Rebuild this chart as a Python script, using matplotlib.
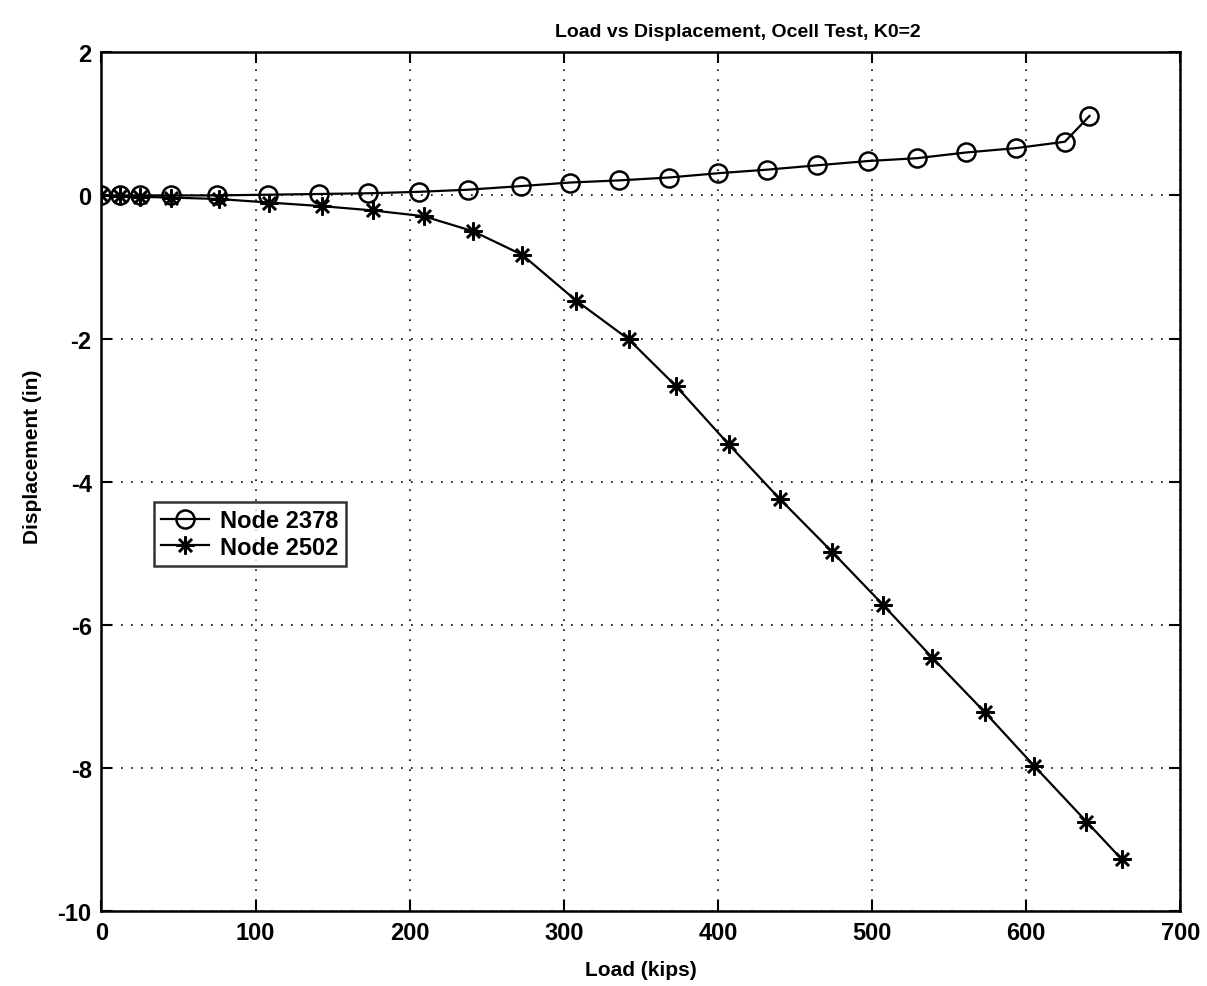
import numpy as np
import matplotlib
matplotlib.use('Agg')
import matplotlib.pyplot as plt

plt.rcParams['font.family'] = ['Liberation Sans', 'DejaVu Sans']
plt.rcParams['font.weight'] = 'bold'
plt.rcParams['axes.unicode_minus'] = False

# Node 2378 (circles)
load_2378 = [0, 12, 25, 45, 75, 108, 141, 173, 206, 238, 272, 304, 336, 368,
             400, 432, 464, 497, 529, 561, 593, 625, 641]
disp_2378 = [0.0, 0.0, 0.0, 0.0, 0.0, 0.01, 0.02, 0.03, 0.05, 0.08, 0.13, 0.18,
             0.21, 0.25, 0.31, 0.36, 0.42, 0.48, 0.52, 0.60, 0.66, 0.75, 1.11]

# Node 2502 (asterisks)
load_2502 = [0, 12, 25, 45, 76, 109, 143, 176, 209, 241, 273, 308, 342, 373,
             407, 440, 474, 507, 539, 573, 605, 639, 662]
disp_2502 = [0.0, -0.01, -0.02, -0.03, -0.05, -0.10, -0.15, -0.21, -0.29, -0.50,
             -0.83, -1.47, -2.01, -2.67, -3.48, -4.24, -4.98, -5.72, -6.46,
             -7.22, -7.97, -8.75, -9.28]

x_ticks = [0, 100, 200, 300, 400, 500, 600, 700]
y_ticks = [-10, -8, -6, -4, -2, 0, 2]

fig = plt.figure(figsize=(12.07, 9.87), dpi=100)
ax = fig.add_axes([0.084, 0.076, 0.894, 0.870])

ax.plot(load_2378, disp_2378, color='black', linewidth=1.6, marker='o',
        markersize=13, markerfacecolor='none', markeredgewidth=1.8,
        label='Node 2378')
ax.plot(load_2502, disp_2502, color='black', linewidth=1.6, marker=(8, 2, 0),
        markersize=13, markeredgewidth=1.8, label='Node 2502')

ax.set_xlim(0, 700)
ax.set_ylim(-10, 2)
ax.set_xticks(x_ticks)
ax.set_yticks(y_ticks)
ax.grid(True, color='black', linestyle=(0, (1, 5)), linewidth=1.2)
ax.tick_params(direction='in', top=True, right=True, length=8, width=1.5,
               labelsize=17, pad=7)
for lab in ax.get_xticklabels() + ax.get_yticklabels():
    lab.set_fontweight('bold')
for sp in ax.spines.values():
    sp.set_linewidth(1.8)

ax.set_title('Load vs Displacement, Ocell Test, K0=2', fontsize=14,
             fontweight='bold', x=0.59, pad=12)
ax.set_xlabel('Load (kips)', fontsize=15, fontweight='bold', labelpad=12)
ax.set_ylabel('Displacement (in)', fontsize=15, fontweight='bold', labelpad=8)
ax.yaxis.set_label_coords(-0.055, 0.53)

leg = ax.legend(loc='upper left', bbox_to_anchor=(0.038, 0.49), fontsize=17,
                frameon=True, fancybox=False, edgecolor='black',
                handlelength=2.0, borderpad=0.3, labelspacing=0.15,
                handletextpad=0.5)
leg.get_frame().set_linewidth(1.8)
for t in leg.get_texts():
    t.set_fontweight('bold')

fig.savefig('out.png', dpi=100, facecolor='white')
